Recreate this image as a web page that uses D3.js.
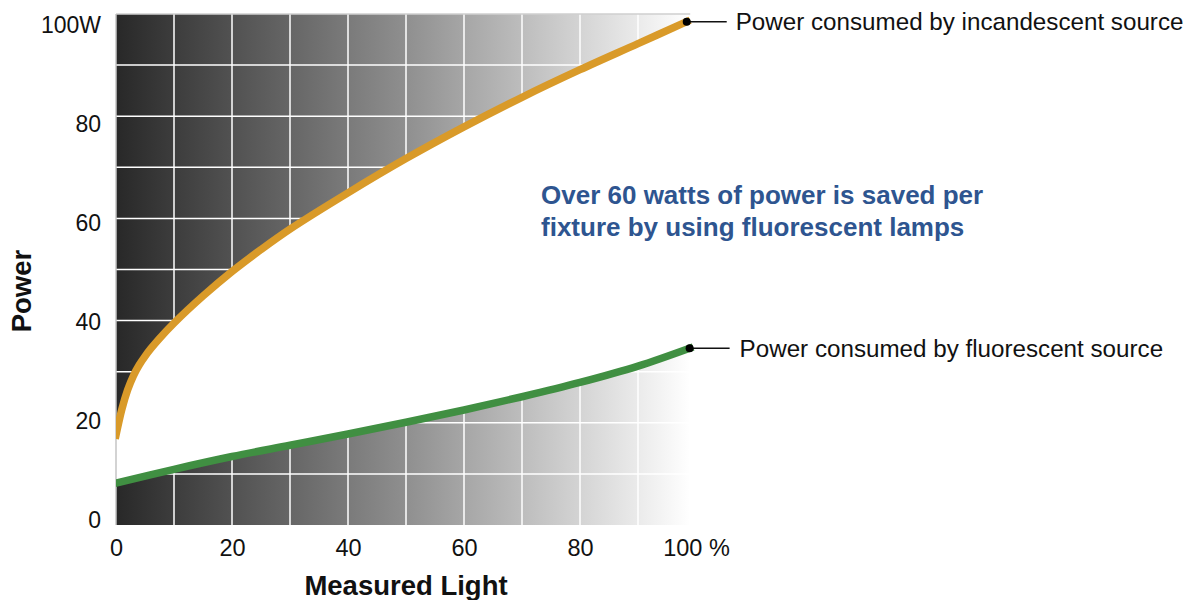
<!DOCTYPE html>
<html>
<head>
<meta charset="utf-8">
<script src="https://cdn.jsdelivr.net/npm/d3@7"></script>
<style>
  body { margin: 0; background: #fff; }
  text { font-family: "Liberation Sans", Arial, sans-serif; fill: #111; }
</style>
</head>
<body>
<svg id="chart" width="1192" height="600"></svg>
<script>
// values (light in %, power in W)
const incandescentLight = [0, 1, 2, 3, 4, 5, 6, 7.5, 10, 15, 20, 25, 30, 40, 50, 60, 70, 80,
  90, 98.4];
const incandescentPower = [17.6, 22.6, 26.4, 29.2, 31.3, 33.0, 34.5, 36.5, 39.5, 44.8, 49.6,
  53.9, 57.9, 65.0, 71.7, 77.9, 83.7, 89.1, 94.2, 98.5];
const fluorescentLight = [0, 10, 20, 30, 40, 50, 60, 70, 80, 90, 98.9];
const fluorescentPower = [8.2, 10.9, 13.4, 15.6, 17.8, 20.1, 22.5, 25.1, 27.9, 31.1, 34.6];

const xTicks = [0, 20, 40, 60, 80, 100];
const yTicks = [0, 20, 40, 60, 80, 100];
const gridSteps = [0, 10, 20, 30, 40, 50, 60, 70, 80, 90, 100];

const seriesLabels = ["Power consumed by incandescent source",
  "Power consumed by fluorescent source"];
const noteLines = ["Over 60 watts of power is saved per",
  "fixture by using fluorescent lamps"];

/**
 * Zips two arrays into [x, y] pairs.
 * @param {Array} xs x values.
 * @param {Array} ys y values.
 * @return {Array} pairs.
 */
function zip(xs, ys) {
  return xs.map((x, i) => [x, ys[i]]);
}

function drawChart() {
  const svg = d3.select("svg#chart");
  const x = d3.scaleLinear().domain([0, 100]).range([116, 696]);
  const y = d3.scaleLinear().domain([0, 100]).range([525, 14]);
  // tick labels sit slightly off the grid in the original
  const yLabel = d3.scaleLinear().domain([0, 100]).range([520, 25]);
  const curve = d3.curveCatmullRom.alpha(0.5);

  const incandescent = zip(incandescentLight, incandescentPower);
  const fluorescent = zip(fluorescentLight, fluorescentPower);

  const defs = svg.append("defs");
  const grad = defs.append("linearGradient")
      .attr("id", "shade")
      .attr("gradientUnits", "userSpaceOnUse")
      .attr("x1", x(0)).attr("x2", x(99)).attr("y1", 0).attr("y2", 0);
  grad.append("stop").attr("offset", 0).attr("stop-color", "#282828");
  grad.append("stop").attr("offset", 0.5).attr("stop-color", "#8e8e8e");
  grad.append("stop").attr("offset", 1).attr("stop-color", "#ffffff");

  defs.append("clipPath").attr("id", "plot")
    .append("rect")
      .attr("x", x(0)).attr("y", y(100) - 10)
      .attr("width", x(100) - x(0) + 20).attr("height", y(0) - y(100) + 10);

  // shaded area above the incandescent curve
  svg.append("path")
      .datum(incandescent)
      .attr("fill", "url(#shade)")
      .attr("d", d3.area()
          .curve(curve)
          .x((d) => x(d[0]))
          .y0(y(100))
          .y1((d) => y(d[1])));

  // shaded area below the fluorescent curve
  svg.append("path")
      .datum(fluorescent)
      .attr("fill", "url(#shade)")
      .attr("d", d3.area()
          .curve(curve)
          .x((d) => x(d[0]))
          .y0(y(0))
          .y1((d) => y(d[1])));

  // white grid
  const grid = svg.append("g").attr("stroke", "#fff").attr("stroke-width", 1.5);
  grid.selectAll("line.v").data(gridSteps.slice(1, -1)).join("line")
      .attr("class", "v")
      .attr("x1", (d) => x(d)).attr("x2", (d) => x(d))
      .attr("y1", y(100)).attr("y2", y(0));
  grid.selectAll("line.h").data(gridSteps.slice(1, -1)).join("line")
      .attr("class", "h")
      .attr("x1", x(0)).attr("x2", x(100))
      .attr("y1", (d) => y(d)).attr("y2", (d) => y(d));

  // light grey frame on top and left
  svg.append("line")
      .attr("x1", x(0)).attr("x2", x(99)).attr("y1", y(100)).attr("y2", y(100))
      .attr("stroke", "#cfcfcf").attr("stroke-width", 1.5);
  svg.append("line")
      .attr("x1", x(0)).attr("x2", x(0)).attr("y1", y(100)).attr("y2", y(0))
      .attr("stroke", "#c4c4c4").attr("stroke-width", 1.5);

  const line = d3.line()
      .curve(curve)
      .x((d) => x(d[0]))
      .y((d) => y(d[1]));

  const series = [
    {data: incandescent, color: "#d99a29", label: seriesLabels[0], gap: 49},
    {data: fluorescent, color: "#408f42", label: seriesLabels[1], gap: 50},
  ];

  series.forEach((s) => {
    svg.append("path")
        .datum(s.data)
        .attr("clip-path", "url(#plot)")
        .attr("fill", "none")
        .attr("stroke", s.color)
        .attr("stroke-width", 7.5)
        .attr("stroke-linecap", "square")
        .attr("d", line);

    const end = s.data[s.data.length - 1];
    const ex = x(end[0]);
    const ey = y(end[1]);
    svg.append("line")
        .attr("x1", ex).attr("x2", ex + 40)
        .attr("y1", ey).attr("y2", ey)
        .attr("stroke", "#111").attr("stroke-width", 1.5);
    svg.append("circle")
        .attr("cx", ex).attr("cy", ey).attr("r", 4)
        .attr("fill", "#000");
    svg.append("text")
        .attr("x", ex + s.gap)
        .attr("y", ey)
        .attr("dy", "0.35em")
        .attr("font-size", 24.2)
        .text(s.label);
  });

  // axes
  const xAxis = svg.append("g")
      .attr("transform", "translate(0," + 548 + ")")
      .call(d3.axisBottom(x).tickValues(xTicks).tickSize(0)
          .tickFormat((d) => d == 100 ? "100 %" : d));
  xAxis.select(".domain").remove();
  xAxis.selectAll("text")
      .attr("dy", "0.35em")
      .attr("y", 0)
      .attr("font-size", 23.5)
      .attr("font-family", "Liberation Sans, Arial, sans-serif")
      .attr("fill", "#111");

  const yAxis = svg.append("g")
      .attr("transform", "translate(101,0)")
      .call(d3.axisLeft(yLabel).tickValues(yTicks).tickSize(0)
          .tickFormat((d) => d == 100 ? "100W" : d));
  yAxis.select(".domain").remove();
  yAxis.selectAll("text")
      .attr("x", 0)
      .attr("font-size", 23)
      .attr("font-family", "Liberation Sans, Arial, sans-serif")
      .attr("fill", "#111");

  svg.append("text")
      .attr("x", (x(0) + x(100)) / 2)
      .attr("y", 595)
      .attr("text-anchor", "middle")
      .attr("font-size", 27.5)
      .attr("font-weight", "bold")
      .text("Measured Light");

  svg.append("text")
      .attr("transform", "translate(31," + 291 + ") rotate(-90)")
      .attr("text-anchor", "middle")
      .attr("font-size", 27.5)
      .attr("font-weight", "bold")
      .text("Power");

  // note in the middle
  svg.append("text")
      .attr("x", 541)
      .attr("y", 204)
      .attr("font-size", 26)
      .attr("font-weight", "bold")
      .style("fill", "#2e5590")
      .selectAll("tspan").data(noteLines).join("tspan")
      .attr("x", 541)
      .attr("dy", (d, i) => i == 0 ? 0 : 32)
      .text((d) => d);
}

drawChart();
</script>
</body>
</html>
